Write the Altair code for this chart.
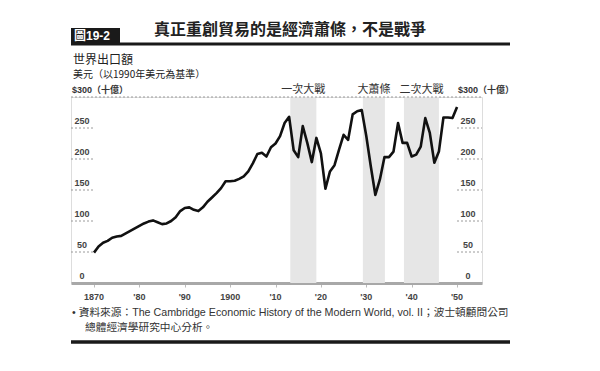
import altair as alt
import pandas as pd

years = list(range(1870, 1951))
exports = [49, 59, 65, 68, 73, 75, 76, 80, 84, 88,
           92, 96, 99, 101, 98, 95, 96, 100, 106, 116,
           121, 122, 118, 116, 122, 131, 138, 145, 153, 164,
           164, 165, 168, 172, 180, 193, 208, 210, 204, 219,
           225, 237, 258, 268, 214, 203, 253, 226, 195, 234,
           209, 152, 180, 190, 215, 239, 231, 272, 277, 279,
           237, 188, 142, 167, 203, 203, 212, 258, 226, 226,
           204, 207, 220, 266, 242, 194, 212, 267, 267, 266,
           284]

period_names = ["一次大戰", "大蕭條", "二次大戰"]
period_start = [1913.25, 1929.25, 1938.3]
period_end = [1919.0, 1934.1, 1946.0]

y_label_values = [0, 50, 100, 150, 200, 250]
grid_values = [50, 100, 150, 200, 250]
top_value = [300]
x_tick_years = [1870, 1880, 1890, 1900, 1910, 1920, 1930, 1940, 1950]
x_tick_labels = ["1870", "'80", "'90", "1900", "'10", "'20", "'30", "'40", "'50"]

title_text = "真正重創貿易的是經濟蕭條，不是戰爭"
badge_text = "圖19-2"
chart_title = "世界出口額"
unit_text = "美元（以1990年美元為基準）"
top_label = "$300（十億）"
source_1 = "• 資料來源：The Cambridge Economic History of the Modern World, vol. II；波士頓顧問公司"
source_2 = "總體經濟學研究中心分析。"

W, H = 411, 186
FONT = "Liberation Sans, Noto Sans CJK TC"
CJK = "Noto Sans CJK TC"

xscale = alt.Scale(domain=[1864.93, 1955.5], nice=False, zero=False)
yscale = alt.Scale(domain=[0, 300], nice=False, zero=True)
xaxis = alt.Axis(values=x_tick_years, labels=False, title=None, grid=False,
                 domainColor="#a8a8a8", domainWidth=3, tickColor="#bbbbbb",
                 tickSize=4, tickWidth=1)

line_df = pd.DataFrame({"year": years, "value": exports})
per_df = pd.DataFrame({"name": period_names, "start": period_start, "end": period_end})
per_df["mid"] = (per_df["start"] + per_df["end"]) / 2
lab_df = pd.DataFrame({"v": y_label_values})
grid_df = pd.DataFrame({"v": grid_values})
top_df = pd.DataFrame({"v": top_value})
xt_df = pd.DataFrame({"year": x_tick_years, "label": x_tick_labels})
one = pd.DataFrame({"a": [0]})

shade = alt.Chart(per_df).mark_rect(color="#e6e6e6").encode(
    x=alt.X("start:Q", scale=xscale, axis=xaxis),
    x2="end:Q",
    y=alt.value(0), y2=alt.value(H),
)

period_text = alt.Chart(per_df).mark_text(
    font=CJK, fontSize=11, color="#333333", baseline="middle", align="center"
).encode(
    x=alt.X("mid:Q", scale=xscale, axis=xaxis),
    y=alt.value(-7),
    text="name:N",
)

grid_l = alt.Chart(grid_df).mark_rule(color="#9a9a9a", strokeDash=[2, 2], strokeWidth=1).encode(
    y=alt.Y("v:Q", scale=yscale, axis=None), x=alt.value(0), x2=alt.value(24))
grid_r = alt.Chart(grid_df).mark_rule(color="#9a9a9a", strokeDash=[2, 2], strokeWidth=1).encode(
    y=alt.Y("v:Q", scale=yscale, axis=None), x=alt.value(386), x2=alt.value(W))
top_rule = alt.Chart(top_df).mark_rule(color="#9a9a9a", strokeDash=[2, 2], strokeWidth=1).encode(
    y=alt.Y("v:Q", scale=yscale, axis=None), x=alt.value(0), x2=alt.value(W))

lab_l = alt.Chart(lab_df).mark_text(font=FONT, fontSize=9, fontWeight="bold", color="#444444",
                                    align="center", baseline="middle", dy=-7).encode(
    y=alt.Y("v:Q", scale=yscale, axis=None), x=alt.value(11), text="v:Q")
lab_r = alt.Chart(lab_df).mark_text(font=FONT, fontSize=9, fontWeight="bold", color="#444444",
                                    align="center", baseline="middle", dy=-7).encode(
    y=alt.Y("v:Q", scale=yscale, axis=None), x=alt.value(397), text="v:Q")

line = alt.Chart(line_df).mark_line(color="#111111", strokeWidth=2.6, strokeJoin="round").encode(
    x=alt.X("year:Q", scale=xscale, axis=xaxis),
    y=alt.Y("value:Q", scale=yscale, axis=None),
)

xlabels = alt.Chart(xt_df).mark_text(font=FONT, fontSize=9, fontWeight="bold", color="#444444",
                                     align="center", baseline="middle").encode(
    x=alt.X("year:Q", scale=xscale, axis=xaxis),
    y=alt.value(H + 14),
    text="label:N",
)


def txt(s, x, y, size, align="left", weight="normal", color="#222222", font=FONT):
    return alt.Chart(one).mark_text(font=font, fontSize=size, fontWeight=weight, color=color,
                                    align=align, baseline="middle").encode(
        x=alt.value(x), y=alt.value(y), text=alt.value(s))


badge_box = alt.Chart(one).mark_rect(color="#1a1a1a").encode(
    x=alt.value(0), x2=alt.value(49), y=alt.value(-69), y2=alt.value(-53))
top_bar = alt.Chart(one).mark_rule(color="#1a1a1a", strokeWidth=3).encode(
    x=alt.value(0), x2=alt.value(439), y=alt.value(-53))
bottom_bar = alt.Chart(one).mark_rule(color="#1a1a1a", strokeWidth=3.5).encode(
    x=alt.value(0), x2=alt.value(439), y=alt.value(245))

layers = [
    shade, grid_l, grid_r, top_rule, lab_l, lab_r, line, xlabels, period_text,
    badge_box, top_bar, bottom_bar,
    txt(badge_text, 3, -61, 12, weight="bold", color="#ffffff"),
    txt(title_text, 219, -67, 16, align="center", weight="bold", color="#222222", font=CJK),
    txt(chart_title, 2, -37, 12, font=CJK),
    txt(unit_text, 2, -22, 10, font=CJK),
    txt(top_label, 1, -7, 9, weight="bold", color="#333333"),
    txt(top_label, 387, -7, 9, weight="bold", color="#333333"),
    txt(source_1, 1, 216, 10.7, color="#333333"),
    txt(source_2, 14, 231, 10.7, color="#333333"),
]

chart = alt.layer(*layers).properties(
    width=W, height=H,
    autosize=alt.AutoSizeParams(type="none"),
    padding={"left": 63, "top": 89, "right": 110, "bottom": 80},
).configure_view(stroke=None).configure(background="white")

chart.save("out.html", embed_options={"renderer": "svg", "actions": False})
